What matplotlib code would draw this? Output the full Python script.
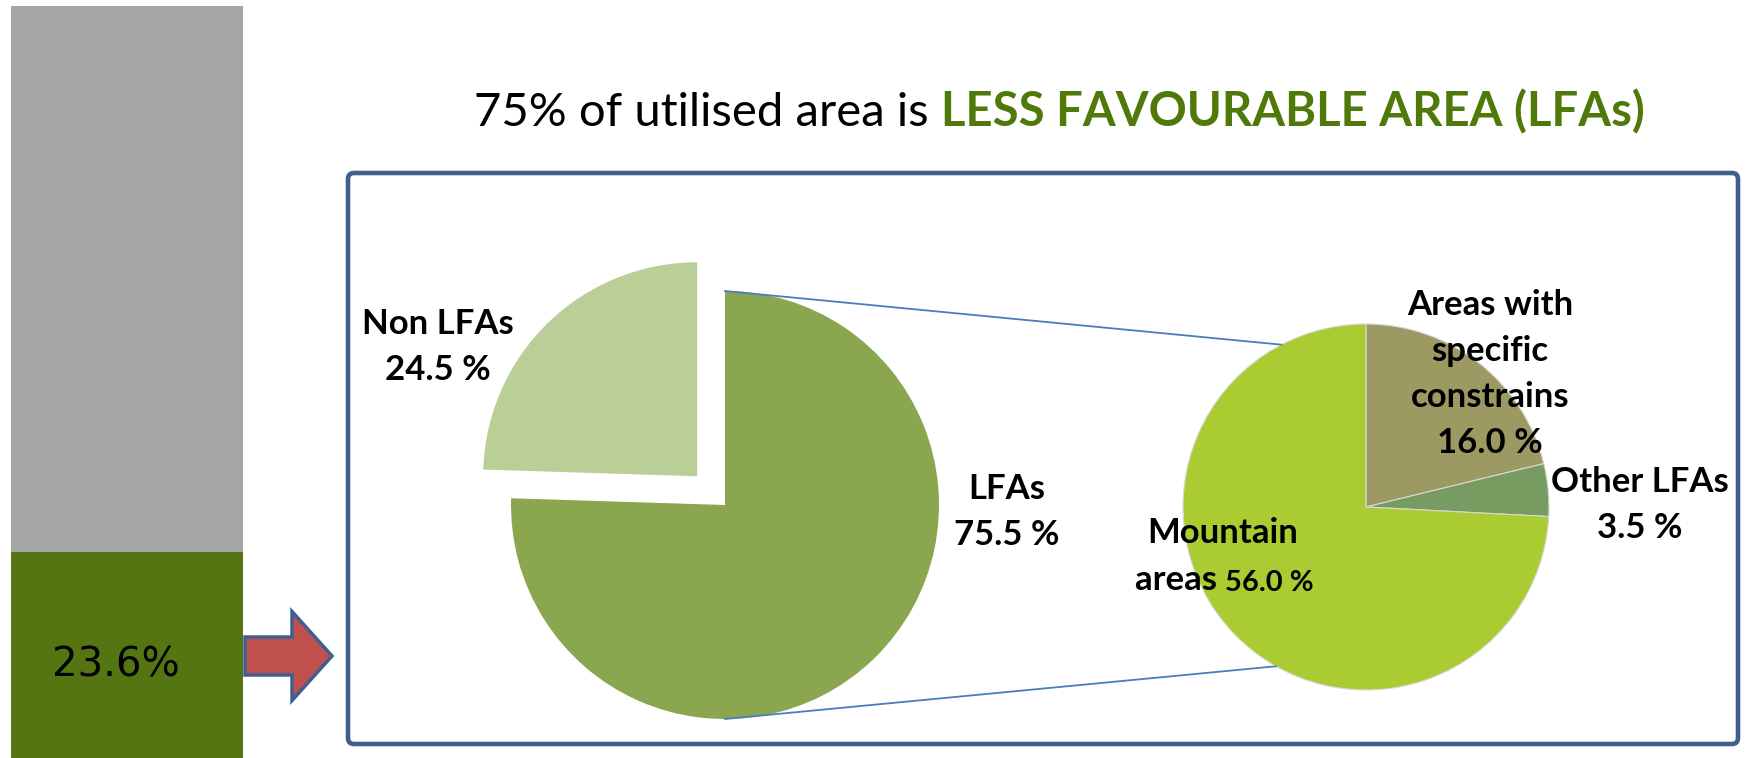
import matplotlib
matplotlib.use("Agg")
import matplotlib.pyplot as plt
from matplotlib.patches import FancyBboxPatch, FancyArrow
import numpy as np

# data
share_lfa_total = 23.6
bar_parts = [23.6, 100 - 23.6]
bar_colors = ['#557512', '#a6a6a6']

main_labels = ['Non LFAs', 'LFAs']
main_values = [24.5, 75.5]
main_colors = ['#bace98', '#8aa64e']

sub_labels = ['Areas with\nspecific\nconstrains', 'Other LFAs', 'Mountain\nareas']
sub_values = [16.0, 3.5, 56.0]
sub_colors = ['#9c9a62', '#779b61', '#abcb32']

plt.rcParams['font.family'] = ['Lato', 'DejaVu Sans']

W, H = 1747, 758
fig = plt.figure(figsize=(W / 100, H / 100), dpi=100)

# left stacked bar
bax = fig.add_axes([11 / W, 0, 232 / W, 752 / H])
bax.bar(0, bar_parts[0], width=1, color=bar_colors[0])
bax.bar(0, bar_parts[1], bottom=bar_parts[0], width=1, color=bar_colors[1])
bax.set_xlim(-0.5, 0.5)
bax.set_ylim(0, 86.1)
bax.axis('off')
bax.text(-0.05, 10.6, f'{share_lfa_total}%', ha='center', va='center',
         fontsize=29, family='DejaVu Sans', color='black')

# main canvas in pixel units (y up)
ax = fig.add_axes([0, 0, 1, 1])
ax.patch.set_alpha(0)

big_c, big_r = (725, 253), 214
small_c, small_r = (1366, 251), 183

ax.pie(main_values, colors=main_colors, startangle=90, counterclock=True,
       center=big_c, radius=big_r, explode=[40, 0],
       wedgeprops=dict(linewidth=0))
ax.pie(sub_values, colors=sub_colors, startangle=90, counterclock=False,
       center=small_c, radius=small_r,
       wedgeprops=dict(linewidth=0.8, edgecolor='#d8d8d8'))

# connector lines
for a_big, a_small in [(90, 117.5), (270, 240.5)]:
    x0 = big_c[0] + big_r * np.cos(np.radians(a_big))
    y0 = big_c[1] + big_r * np.sin(np.radians(a_big))
    x1 = small_c[0] + small_r * np.cos(np.radians(a_small))
    y1 = small_c[1] + small_r * np.sin(np.radians(a_small))
    ax.plot([x0, x1], [y0, y1], color='#4a7ebb', lw=1.3)

# frame
frame = FancyBboxPatch((348, H - 744), 1390, 571,
                       boxstyle='round,pad=0,rounding_size=6',
                       fill=False, edgecolor='#3f5f8f', lw=3.3)
ax.add_patch(frame)

# arrow
ax.add_patch(FancyArrow(245, H - 656, 87, 0, width=38, head_width=89,
                        head_length=40, length_includes_head=True,
                        facecolor='#c0504d', edgecolor='#3f5f8f', lw=2.5))

# labels
lab = dict(ha='center', va='center', fontsize=25, fontweight='bold', color='black',
           linespacing=1.55)
ax.text(438, H - 347, f'{main_labels[0]}\n{main_values[0]} %', **lab)
ax.text(1007, H - 512, f'{main_labels[1]}\n{main_values[1]} %', **lab)
ax.text(1490, H - 374, f'{sub_labels[0]}\n{sub_values[0]} %', **lab)
ax.text(1640, H - 505, f'{sub_labels[1]}\n{sub_values[1]} %', **lab)
m1, m2 = sub_labels[2].split('\n')
ax.text(1223, H - 533, m1, **lab)
t = ax.text(1135, H - 580, m2 + ' ', ha='left', va='center', fontsize=25,
            fontweight='bold')
ax.annotate(f'{sub_values[2]} %', xy=(1, 0), xycoords=t, va='bottom', ha='left',
            fontsize=21, fontweight='bold')

# title
t1 = ax.text(474, H - 113, '75% of utilised area is ', ha='left', va='center',
             fontsize=34, color='black')
ax.annotate('LESS FAVOURABLE AREA (LFAs)', xy=(1, 0), xycoords=t1,
            ha='left', va='bottom', fontsize=34, fontweight='bold', color='#4f7a0a')

ax.set_xlim(0, W)
ax.set_ylim(0, H)
ax.set_aspect('auto')
ax.axis('off')

fig.savefig('out.png', dpi=100)
